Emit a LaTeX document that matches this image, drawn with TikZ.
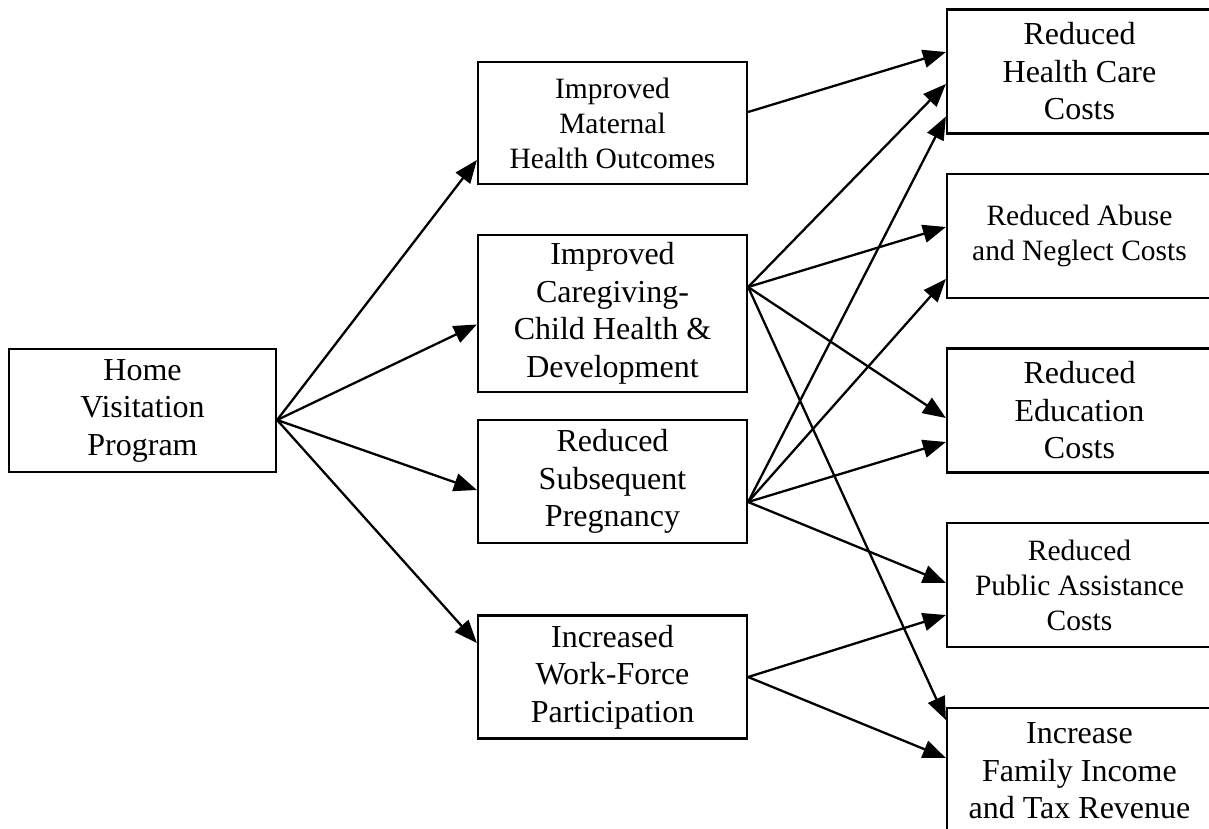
\documentclass[tikz,border=0pt]{standalone}
\usepackage{fontspec}
\setmainfont{Liberation Serif}
\usetikzlibrary{arrows.meta}
\tikzset{%
  base/.style = {rectangle, draw = black, line width = 2.2pt, align = center, inner sep = 0pt, font = \fontsize{32}{37.5}\selectfont},
  smalltext/.style = {font = \fontsize{29.5}{35}\selectfont},
  Program/.style = {base, minimum width = 267pt, minimum height = 123pt},
  Outcome/.style = {base, minimum width = 269pt, minimum height = 123pt},
  Saving/.style = {base, minimum width = 265pt, minimum height = 124pt},
  arrow/.style = {-{Triangle[length=23pt, width=18pt]}, line width = 2.3pt}
}

\begin{document}
\begin{tikzpicture}[x=1pt, y=-1pt]
    \useasboundingbox (0,0) rectangle (1209,829);
    % program
    \node at (142.5,410.5) (Home) [Program] {Home\\Visitation\\Program};
    % outcomes
    \node at (612.5,123) (Maternal) [Outcome, smalltext, minimum height = 122pt] {Improved\\Maternal\\Health Outcomes};
    \node at (612.5,313.5) (Caregiving) [Outcome, minimum height = 157pt] {Improved\\Caregiving-\\Child Health \&\\Development};
    \node at (612.5,481.5) (Pregnancy) [Outcome] {Reduced\\Subsequent\\Pregnancy};
    \node at (612.5,677) (WorkForce) [Outcome] {Increased\\Work-Force\\Participation};
    % savings
    \node at (1079.5,71.5) (HealthCare) [Saving] {Reduced\\Health Care\\Costs};
    \node at (1079.5,236) (Abuse) [Saving, smalltext] {Reduced Abuse\\and Neglect Costs};
    \node at (1079.5,410.5) (Education) [Saving] {Reduced\\Education\\Costs};
    \node at (1079.5,585) (Assistance) [Saving, smalltext] {Reduced\\Public Assistance\\Costs};
    \node at (1079.5,771) (Income) [Saving, minimum height = 126pt] {Increase\\Family Income\\and Tax Revenue};

    \draw[arrow] ([yshift=-9.5pt] Home.east) -- ([yshift=-37pt] Maternal.west);
    \draw[arrow] ([yshift=-9.5pt] Home.east) -- ([yshift=-11pt] Caregiving.west);
    \draw[arrow] ([yshift=-9.5pt] Home.east) -- ([yshift=-8.5pt] Pregnancy.west);
    \draw[arrow] ([yshift=-9.5pt] Home.east) -- ([yshift=34pt] WorkForce.west);

    \draw[arrow] ([yshift=11pt] Maternal.east) -- ([yshift=19.5pt] HealthCare.west);

    \draw[arrow] ([yshift=26.5pt] Caregiving.east) -- ([yshift=-12.5pt] HealthCare.west);
    \draw[arrow] ([yshift=26.5pt] Caregiving.east) -- ([yshift=9pt] Abuse.west);
    \draw[arrow] ([yshift=26.5pt] Caregiving.east) -- ([yshift=-7.5pt] Education.west);
    \draw[arrow] ([yshift=26.5pt] Caregiving.east) -- ([yshift=51pt] Income.west);

    \draw[arrow] ([yshift=-20.5pt] Pregnancy.east) -- ([yshift=-45pt] HealthCare.west);
    \draw[arrow] ([yshift=-20.5pt] Pregnancy.east) -- ([yshift=-43pt] Abuse.west);
    \draw[arrow] ([yshift=-20.5pt] Pregnancy.east) -- ([yshift=-31.5pt] Education.west);
    \draw[arrow] ([yshift=-20.5pt] Pregnancy.east) -- ([yshift=2pt] Assistance.west);

    \draw[arrow] (WorkForce.east) -- ([yshift=-30pt] Assistance.west);
    \draw[arrow] (WorkForce.east) -- ([yshift=13pt] Income.west);
\end{tikzpicture}
\end{document}
